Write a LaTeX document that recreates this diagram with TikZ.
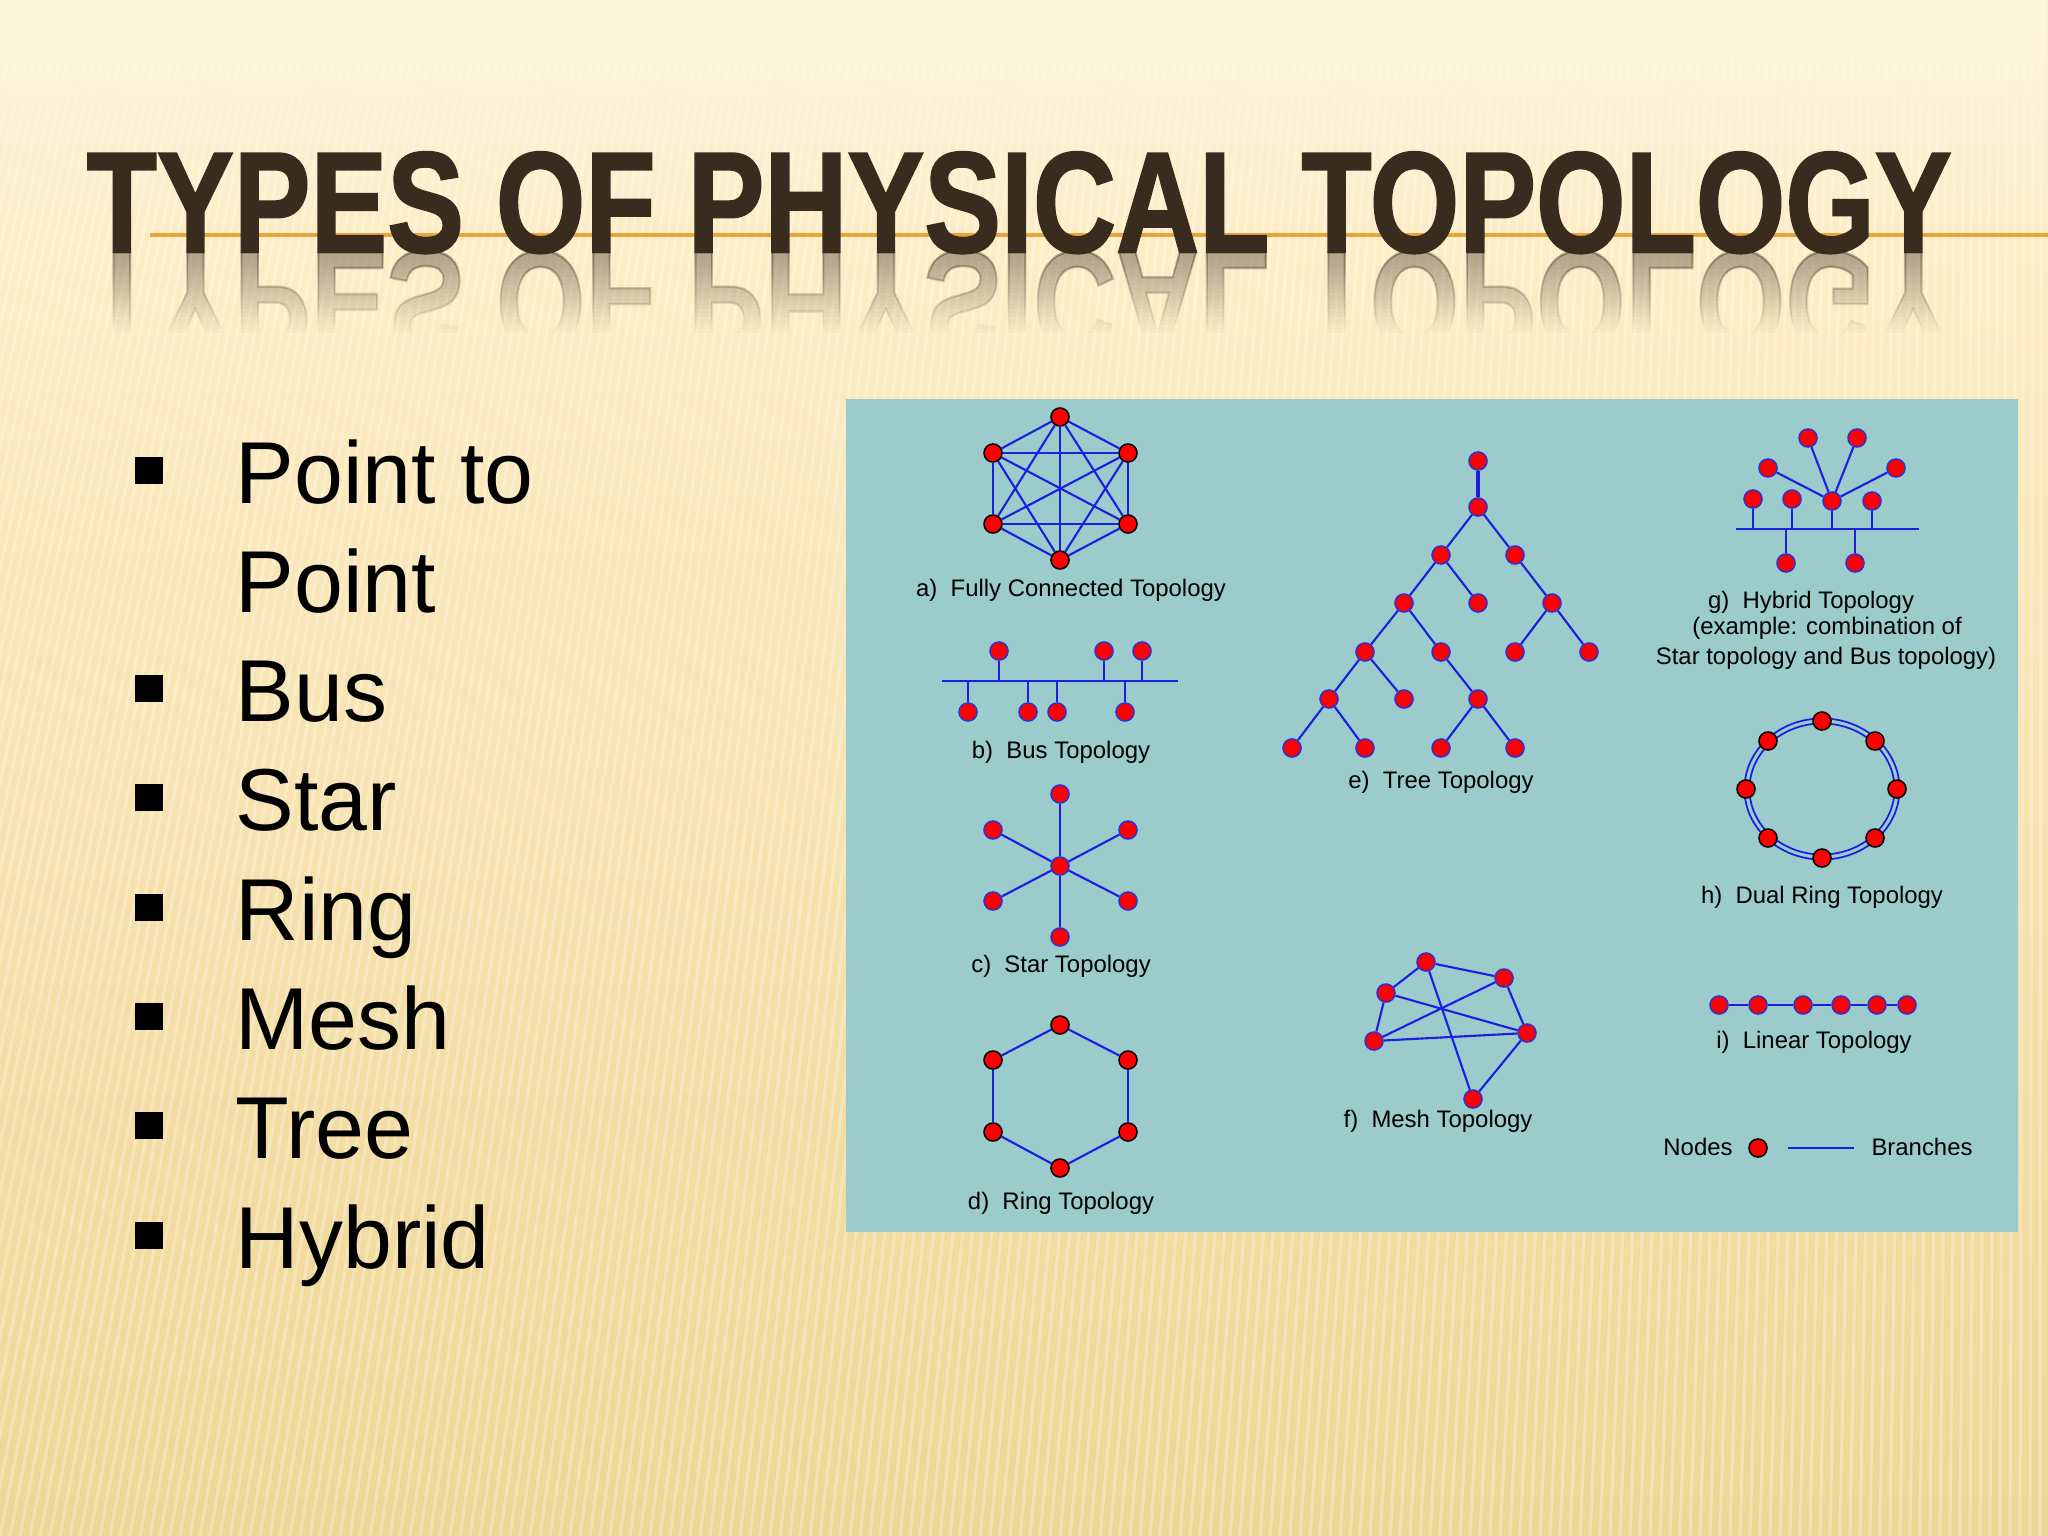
\documentclass[tikz,border=0pt]{standalone}
\usepackage{fontspec}
\setmainfont{Liberation Sans}
\newfontfamily\titlefont[FakeBold=1.6]{Liberation Sans Bold}
\usetikzlibrary{fadings}
\definecolor{bgA}{HTML}{FEF6DE}
\definecolor{bgB}{HTML}{FCECC3}
\definecolor{bgC}{HTML}{F2DBA0}
\definecolor{bgD}{HTML}{E5C980}
\definecolor{panelc}{HTML}{9BCBCB}
\definecolor{titlec}{HTML}{3A2B1F}
\definecolor{rulec}{HTML}{E9A43C}
\definecolor{brc}{HTML}{1E1EE0}
\definecolor{dotedge}{HTML}{3030D0}
\pgfdeclareverticalshading{bgshade}{100bp}{color(0bp)=(bgD); color(35bp)=(bgC); color(65bp)=(bgB); color(92bp)=(bgA); color(100bp)=(bgA)}
\tikzset{
  dot/.style={circle, fill=red, draw=dotedge, line width=0.45pt, minimum size=0.18cm, inner sep=0pt},
  dotk/.style={dot, draw=black},
  br/.style={draw=brc, line width=0.6pt},
  lbl/.style={inner sep=0pt, text=black, font=\fontsize{6.8pt}{8.4pt}\selectfont},
  bullettext/.style={inner sep=0pt, anchor=base west, text=black, font=\fontsize{25pt}{30pt}\selectfont},
  bulletsq/.style={rectangle, fill=black, minimum size=0.27cm, inner sep=0pt},
  stripe/.style={white, opacity=0.28, line width=0.03cm},
}
\newcommand{\titletext}{\resizebox{18.63cm}{1.0cm}{\titlefont TYPES OF PHYSICAL TOPOLOGY}}
\begin{document}
\begin{tikzpicture}[x=0.01cm,y=-0.01cm]
\useasboundingbox (0,0) rectangle (2048,1536);
% background
\shade[shading=bgshade] (0,0) rectangle (2048,1536);
\foreach \b in {-400,-390,...,2050}{
  \draw[stripe] (\b,1536) -- ({0.856*\b+295},40);
}
\fill[bgA, path fading=south] (0,0) rectangle (2048,230);

% title rule, title and its reflection
\coordinate (ruleL) at (150,235);
\coordinate (ruleR) at (2048,235);
\draw[rulec, line width=0.045cm] (ruleL) -- (ruleR);
\node[anchor=base west, inner sep=0pt, text=titlec] (title) at (86,252) {\titletext};
\foreach \k in {0,...,19}{
  \pgfmathsetmacro{\op}{1-(1-0.34*(1-\k/20))/(1-0.34*(1-(\k+1)/20))}
  \begin{scope}
    \clip (0,252) rectangle (2048,{256+4*\k});
    \begin{scope}[shift={(0,504)}, yscale=-1]
      \node[transform shape, anchor=base west, inner sep=0pt, text=titlec, text opacity=\op] (refl\k) at (86,252) {\titletext};
    \end{scope}
  \end{scope}
}

% bullets
\node[bulletsq] (bq1) at (149,470) {};
\node[bullettext] (bt1) at (235,503) {Point to};
\node[bullettext] (bt1b) at (235,612) {Point};
\node[bulletsq] (bq2) at (149,688) {};
\node[bullettext] (bt2) at (235,721) {Bus};
\node[bulletsq] (bq3) at (149,797) {};
\node[bullettext] (bt3) at (235,830) {Star};
\node[bulletsq] (bq4) at (149,907) {};
\node[bullettext] (bt4) at (235,940) {Ring};
\node[bulletsq] (bq5) at (149,1016) {};
\node[bullettext] (bt5) at (235,1049) {Mesh};
\node[bulletsq] (bq6) at (149,1125) {};
\node[bullettext] (bt6) at (235,1158) {Tree};
\node[bulletsq] (bq7) at (149,1235) {};
\node[bullettext] (bt7) at (235,1268) {Hybrid};

% panel
\fill[panelc] (846,399) rectangle (2018,1232);

% a) fully connected
\node[dotk] (a1) at (1060,417) {};
\node[dotk] (a2) at (993,453) {};
\node[dotk] (a3) at (1128,453) {};
\node[dotk] (a4) at (993,524) {};
\node[dotk] (a5) at (1128,524) {};
\node[dotk] (a6) at (1060,560) {};
\foreach \u/\v in {a1/a2,a1/a3,a1/a4,a1/a5,a1/a6,a2/a3,a2/a4,a2/a5,a2/a6,a3/a4,a3/a5,a3/a6,a4/a5,a4/a6,a5/a6}{
  \draw[br] (\u) -- (\v);
}
\node[lbl] (la) at (1071,590) {a)\ \ Fully Connected Topology};

% b) bus
\coordinate (busL) at (942,681);
\coordinate (busR) at (1178,681);
\draw[br] (busL) -- (busR);
\node[dot] (b1) at (999,651) {};
\node[dot] (b2) at (1104,651) {};
\node[dot] (b3) at (1142,651) {};
\node[dot] (b4) at (968,712) {};
\node[dot] (b5) at (1028,712) {};
\node[dot] (b6) at (1057,712) {};
\node[dot] (b7) at (1125,712) {};
\foreach \n in {b1,b2,b3,b4,b5,b6,b7}{
  \draw[br] (\n) -- (\n |- busL);
}
\node[lbl] (lb) at (1061,752) {b)\ \ Bus Topology};

% c) star
\node[dot] (c0) at (1060,866) {};
\node[dot] (c1) at (1060,794) {};
\node[dot] (c2) at (993,830) {};
\node[dot] (c3) at (1128,830) {};
\node[dot] (c4) at (993,901) {};
\node[dot] (c5) at (1128,901) {};
\node[dot] (c6) at (1060,937) {};
\foreach \n in {c1,c2,c3,c4,c5,c6}{
  \draw[br] (c0) -- (\n);
}
\node[lbl] (lc) at (1061,966) {c)\ \ Star Topology};

% d) ring
\node[dotk] (d1) at (1060,1025) {};
\node[dotk] (d2) at (1128,1060) {};
\node[dotk] (d3) at (1128,1132) {};
\node[dotk] (d4) at (1060,1168) {};
\node[dotk] (d5) at (993,1132) {};
\node[dotk] (d6) at (993,1060) {};
\foreach \u/\v in {d1/d2,d2/d3,d3/d4,d4/d5,d5/d6,d6/d1}{
  \draw[br] (\u) -- (\v);
}
\node[lbl] (ld) at (1061,1203) {d)\ \ Ring Topology};

% e) tree
\node[dot] (t0) at (1478,461) {};
\node[dot] (t1) at (1478,507) {};
\node[dot] (t2) at (1441,555) {};
\node[dot] (t3) at (1515,555) {};
\node[dot] (t4) at (1404,603) {};
\node[dot] (t5) at (1478,603) {};
\node[dot] (t6) at (1552,603) {};
\node[dot] (t7) at (1365,652) {};
\node[dot] (t8) at (1441,652) {};
\node[dot] (t9) at (1515,652) {};
\node[dot] (t10) at (1589,652) {};
\node[dot] (t11) at (1329,699) {};
\node[dot] (t12) at (1404,699) {};
\node[dot] (t13) at (1478,699) {};
\node[dot] (t14) at (1292,748) {};
\node[dot] (t15) at (1365,748) {};
\node[dot] (t16) at (1441,748) {};
\node[dot] (t17) at (1515,748) {};
\draw[br, line width=0.9pt] (t0) -- (t1);
\foreach \u/\v in {t1/t2,t1/t3,t2/t4,t2/t5,t3/t6,t4/t7,t4/t8,t6/t9,t6/t10,t7/t11,t7/t12,t8/t13,t11/t14,t11/t15,t13/t16,t13/t17}{
  \draw[br] (\u) -- (\v);
}
\node[lbl] (le) at (1441,782) {e)\ \ Tree Topology};

% f) mesh
\node[dot] (m1) at (1426,962) {};
\node[dot] (m2) at (1504,978) {};
\node[dot] (m3) at (1386,993) {};
\node[dot] (m4) at (1374,1041) {};
\node[dot] (m5) at (1527,1033) {};
\node[dot] (m6) at (1473,1099) {};
\foreach \u/\v in {m1/m2,m1/m3,m1/m6,m3/m4,m3/m5,m4/m2,m4/m5,m2/m5,m5/m6}{
  \draw[br] (\u) -- (\v);
}
\node[lbl] (lf) at (1438,1121) {f)\ \ Mesh Topology};

% g) hybrid
\coordinate (hbL) at (1736,529);
\coordinate (hbR) at (1919,529);
\draw[br] (hbL) -- (hbR);
\node[dot] (h1) at (1753,499) {};
\node[dot] (h2) at (1792,499) {};
\node[dot] (h0) at (1832,501) {};
\node[dot] (h4) at (1872,501) {};
\node[dot] (h5) at (1786,563) {};
\node[dot] (h6) at (1855,563) {};
\node[dot] (s1) at (1808,438) {};
\node[dot] (s2) at (1857,438) {};
\node[dot] (s3) at (1768,468) {};
\node[dot] (s4) at (1896,468) {};
\foreach \n in {h1,h2,h0,h4,h5,h6}{
  \draw[br] (\n) -- (\n |- hbL);
}
\foreach \n in {s1,s2,s3,s4}{
  \draw[br] (h0) -- (\n);
}
\node[lbl] (lg1) at (1811,602) {g)\ \ Hybrid Topology};
\node[lbl] (lg2) at (1827,628) {(example: combination of};
\node[lbl] (lg3) at (1826,658) {Star topology and Bus topology)};

% h) dual ring
\draw[brc, line width=0.5pt] (1822,789) ellipse [x radius=0.775cm, y radius=0.705cm];
\draw[brc, line width=0.5pt] (1822,789) ellipse [x radius=0.725cm, y radius=0.655cm];
\node[dotk] (r1) at (1822,721) {};
\node[dotk] (r2) at (1875,741) {};
\node[dotk] (r3) at (1897,789) {};
\node[dotk] (r4) at (1875,838) {};
\node[dotk] (r5) at (1822,858) {};
\node[dotk] (r6) at (1768,838) {};
\node[dotk] (r7) at (1746,789) {};
\node[dotk] (r8) at (1768,741) {};
\node[lbl] (lh) at (1822,897) {h)\ \ Dual Ring Topology};

% i) linear
\node[dot] (i1) at (1719,1005) {};
\node[dot] (i2) at (1758,1005) {};
\node[dot] (i3) at (1803,1005) {};
\node[dot] (i4) at (1841,1005) {};
\node[dot] (i5) at (1877,1005) {};
\node[dot] (i6) at (1907,1005) {};
\foreach \u/\v in {i1/i2,i2/i3,i3/i4,i4/i5,i5/i6}{
  \draw[br, line width=0.8pt] (\u) -- (\v);
}
\node[lbl] (li) at (1814,1042) {i)\ \ Linear Topology};

% legend
\node[lbl] (lnodes) at (1698,1147) {Nodes};
\node[dotk] (lgdot) at (1758,1148) {};
\coordinate (lgL) at (1788,1148);
\coordinate (lgR) at (1854,1148);
\draw[br] (lgL) -- (lgR);
\node[lbl] (lbranch) at (1922,1147) {Branches};
\end{tikzpicture}
\end{document}
